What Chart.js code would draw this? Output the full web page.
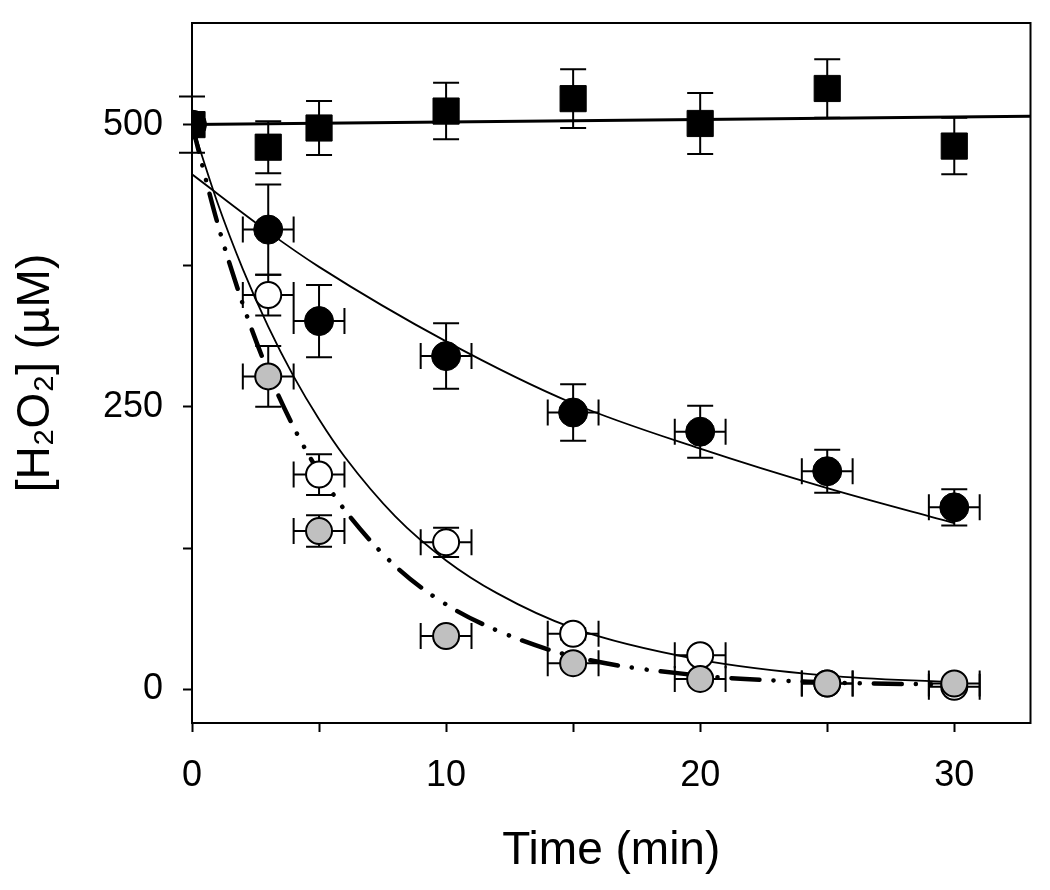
<!DOCTYPE html>
<html>
<head>
<meta charset="utf-8">
<script src="https://cdn.jsdelivr.net/npm/chart.js@4.4.1/dist/chart.umd.min.js"></script>
<style>
  html, body { margin: 0; padding: 0; background: #fff; }
  #wrap { width: 1050px; height: 890px; }
</style>
</head>
<body>
<div id="wrap"><canvas id="h2o2Chart"></canvas></div>
<script>
// time points (min)
const times = [0, 3, 5, 10, 15, 20, 25, 30];

// filled squares
const squareY = [500, 480, 497, 512, 523, 501, 532, 481];
const squareYErr = [25, 23, 24, 25, 26, 27, 26, 25];

// filled circles
const blackY = [500, 407, 326, 295, 245, 228, 193, 161];
const blackYErr = [0, 40, 32, 29, 25, 23, 19, 16];
const blackXErr = [0, 1, 1, 1, 1, 1, 1, 1];

// open circles
const openY = [500, 349, 190, 130, 49, 30, 5, 2];
const openYErr = [0, 18, 18, 13, 5, 4, 0, 0];
const openXErr = [0, 1, 1, 1, 1, 1, 1, 1];

// grey circles
const greyY = [500, 277, 140, 47, 23, 9, 5, 5];
const greyYErr = [0, 27, 14, 4, 4, 3, 3, 3];
const greyXErr = [0, 1, 1, 1, 1, 1, 1, 1];

// fitted curves
const squareFitT = [0, 33];
const squareFitY = [500, 507.4];
const blackFitT = [0, 3, 5, 10, 15, 20, 25, 30];
const blackFitY = [456, 405, 374, 308, 253, 213, 178, 147];
const openFitT = [0, 1, 2, 3, 4, 5, 6, 8, 10, 12, 15, 20, 25, 30];
const openFitY = [500, 431, 372, 321, 277, 239, 206, 153, 114, 85, 54, 26, 12, 6];
const greyFitT = [0, 1, 2, 3, 4, 5, 6, 8, 10, 12, 15, 20, 25, 30];
const greyFitY = [500, 413, 341, 281, 232, 192, 159, 109, 75, 52, 29, 12, 6, 4];

// axis ticks
const xTicks = [0, 5, 10, 15, 20, 25, 30];
const xTickLabels = ['0', '', '10', '', '20', '', '30'];
const yTicks = [0, 125, 250, 375, 500];
const yTickLabels = ['0', '', '250', '', '500'];

const FONT = '"Liberation Sans", Arial, Helvetica, sans-serif';

function pts(xs, ys) {
    return xs.map((x, i) => ({ x: x, y: ys[i] }));
}

// error bars drawn under the markers
const errorBars = {
    id: 'errorBars',
    beforeDatasetsDraw(chart) {
        const ctx = chart.ctx;
        const xs = chart.scales.x;
        const ys = chart.scales.y;
        const cap = 13;
        ctx.save();
        ctx.strokeStyle = '#000';
        ctx.lineWidth = 2;
        chart.data.datasets.forEach(ds => {
            if (!ds.yErr) return;
            ds.data.forEach((p, i) => {
                const px = xs.getPixelForValue(p.x);
                const py = ys.getPixelForValue(p.y);
                const ye = ds.yErr[i];
                const xe = ds.xErr ? ds.xErr[i] : 0;
                ctx.beginPath();
                if (ye) {
                    const top = ys.getPixelForValue(p.y + ye);
                    const bot = ys.getPixelForValue(p.y - ye);
                    ctx.moveTo(px, top); ctx.lineTo(px, bot);
                    ctx.moveTo(px - cap, top); ctx.lineTo(px + cap, top);
                    ctx.moveTo(px - cap, bot); ctx.lineTo(px + cap, bot);
                }
                if (xe) {
                    const l = xs.getPixelForValue(p.x - xe);
                    const r = xs.getPixelForValue(p.x + xe);
                    ctx.moveTo(l, py); ctx.lineTo(r, py);
                    ctx.moveTo(l, py - cap); ctx.lineTo(l, py + cap);
                    ctx.moveTo(r, py - cap); ctx.lineTo(r, py + cap);
                }
                ctx.stroke();
            });
        });
        ctx.restore();
    }
};

// box round the plot area
const frame = {
    id: 'frame',
    afterDraw(chart) {
        const a = chart.chartArea;
        const ctx = chart.ctx;
        ctx.save();
        ctx.strokeStyle = '#000';
        ctx.lineWidth = 2;
        ctx.strokeRect(a.left, a.top, a.right - a.left, a.bottom - a.top);
        ctx.restore();
    }
};

const ctx = document.getElementById('h2o2Chart').getContext('2d');
new Chart(ctx, {
    type: 'scatter',
    data: {
        datasets: [
            {
                label: 'squares',
                data: pts(times, squareY),
                yErr: squareYErr,
                pointStyle: 'rect',
                pointRadius: 18.5,
                backgroundColor: '#000',
                borderColor: '#000',
                borderWidth: 1
            },
            {
                label: 'grey circles',
                data: pts(times, greyY),
                yErr: greyYErr,
                xErr: greyXErr,
                pointStyle: 'circle',
                pointRadius: 13,
                backgroundColor: '#c0c0c0',
                borderColor: '#000',
                borderWidth: 2
            },
            {
                label: 'open circles',
                data: pts(times, openY),
                yErr: openYErr,
                xErr: openXErr,
                pointStyle: 'circle',
                pointRadius: 13,
                backgroundColor: '#fff',
                borderColor: '#000',
                borderWidth: 2
            },
            {
                label: 'filled circles',
                data: pts(times, blackY),
                yErr: blackYErr,
                xErr: blackXErr,
                pointStyle: 'circle',
                pointRadius: 14.5,
                backgroundColor: '#000',
                borderColor: '#000',
                borderWidth: 1
            },
            {
                label: 'square fit',
                data: pts(squareFitT, squareFitY),
                showLine: true,
                pointRadius: 0,
                borderColor: '#000',
                borderWidth: 3
            },
            {
                label: 'grey fit',
                data: pts(greyFitT, greyFitY),
                showLine: true,
                pointRadius: 0,
                borderColor: '#000',
                borderWidth: 4.5,
                borderCapStyle: 'round',
                borderDash: [28, 14, 0.1, 15, 0.1, 14],
                cubicInterpolationMode: 'monotone'
            },
            {
                label: 'open fit',
                data: pts(openFitT, openFitY),
                showLine: true,
                pointRadius: 0,
                borderColor: '#000',
                borderWidth: 1.8,
                cubicInterpolationMode: 'monotone'
            },
            {
                label: 'filled fit',
                data: pts(blackFitT, blackFitY),
                showLine: true,
                pointRadius: 0,
                borderColor: '#000',
                borderWidth: 1.8,
                cubicInterpolationMode: 'monotone'
            }
        ]
    },
    options: {
        responsive: true,
        maintainAspectRatio: false,
        animation: false,
        layout: { padding: { left: 0, top: 23, right: 19, bottom: 0 } },
        plugins: {
            legend: { display: false },
            tooltip: { enabled: false }
        },
        scales: {
            x: {
                type: 'linear',
                min: 0,
                max: 33,
                afterFit: function (scale) {
                    scale.height = 167;
                    scale.paddingLeft = 0;
                    scale.paddingRight = 0;
                },
                afterBuildTicks: function (scale) {
                    scale.ticks = xTicks.map(v => ({ value: v }));
                },
                border: { display: true, color: '#000', width: 2 },
                grid: { drawOnChartArea: false, drawTicks: true, tickLength: 9, tickWidth: 2, tickColor: '#000' },
                ticks: {
                    color: '#000',
                    padding: 22,
                    maxRotation: 0,
                    font: { family: FONT, size: 36 },
                    callback: function (value) {
                        const i = xTicks.indexOf(value);
                        return i >= 0 ? xTickLabels[i] : '';
                    }
                },
                title: {
                    display: true,
                    text: 'Time (min)',
                    color: '#000',
                    font: { family: FONT, size: 46 },
                    padding: { top: 0, bottom: 11 }
                }
            },
            y: {
                type: 'linear',
                min: -30,
                max: 590,
                afterFit: function (scale) {
                    scale.width = 192;
                    scale.paddingTop = 0;
                    scale.paddingBottom = 0;
                },
                afterBuildTicks: function (scale) {
                    scale.ticks = yTicks.map(v => ({ value: v }));
                },
                border: { display: true, color: '#000', width: 2 },
                grid: { drawOnChartArea: false, drawTicks: true, tickLength: 9, tickWidth: 2, tickColor: '#000' },
                ticks: {
                    color: '#000',
                    padding: 20,
                    font: { family: FONT, size: 36 },
                    callback: function (value) {
                        const i = yTicks.indexOf(value);
                        return i >= 0 ? yTickLabels[i] : '';
                    }
                },
                title: {
                    display: true,
                    text: '[H\u2082O\u2082] (\u00b5M)',
                    color: '#000',
                    font: { family: FONT, size: 46 },
                    padding: { top: 9, bottom: 0 }
                }
            }
        }
    },
    plugins: [errorBars, frame]
});
</script>
</body>
</html>
